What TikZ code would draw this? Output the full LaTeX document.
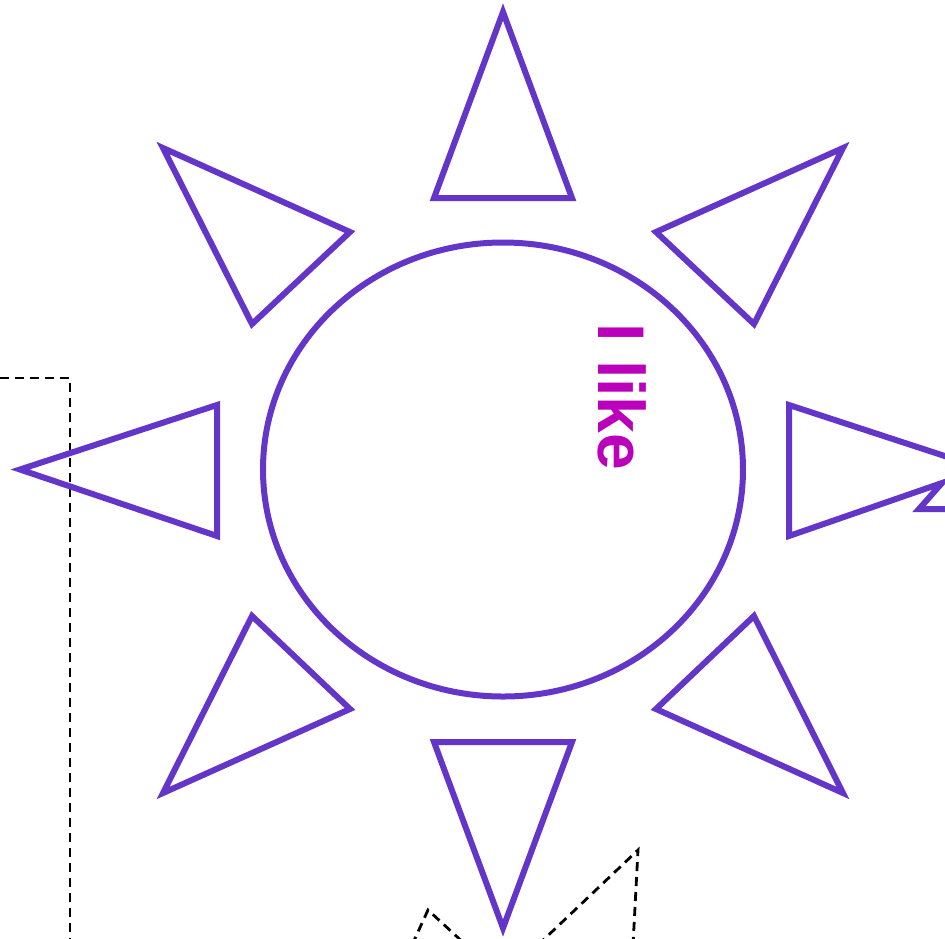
\documentclass[tikz,border=0pt]{standalone}
\usepackage{fontspec}
\usepackage{xcolor}
\usepackage{tikz}
\newfontfamily\labelfont{Liberation Sans}
\definecolor{sunPurple}{HTML}{6435C9}
\definecolor{textMagenta}{HTML}{BB00BB}
\tikzset{
  sunline/.style={draw=sunPurple, line width=6pt, line join=miter},
  guide/.style={draw=black, line width=2.8pt, dash pattern=on 9pt off 6pt},
  likelabel/.style={text=textMagenta, font=\labelfont\bfseries\fontsize{66}{66}\selectfont, inner sep=0pt, rotate=-90}
}

\begin{document}
\begin{tikzpicture}[x=1pt, y=-1pt]
  \useasboundingbox (0,0) rectangle (945,938);
  \begin{scope}
  \clip (0,0) rectangle (945,938);
  % dashed guides
  \draw[guide] (0,378) -- (70,378) -- (70,945);
  \draw[guide] (412,945) -- (428,910) -- (466,945);
  \draw[guide] (538,945) -- (638,850) -- (633,945);
  % the sun
  \draw[sunline] (503,469.5) ellipse [x radius=240, y radius=227];
  \draw[sunline] (503,12) -- (572,198) -- (434,198) -- cycle;
  \draw[sunline] (503,928) -- (572,742) -- (434,742) -- cycle;
  \draw[sunline] (20,469.5) -- (217,405) -- (217,536) -- cycle;
  \draw[sunline] (163,148) -- (350,232) -- (252,324) -- cycle;
  \draw[sunline] (843,148) -- (656,232) -- (754,324) -- cycle;
  \draw[sunline] (163,793) -- (252,616) -- (350,709) -- cycle;
  \draw[sunline] (843,793) -- (754,616) -- (656,709) -- cycle;
  \draw[sunline] (960,461) -- (789,405) -- (789,536) -- (942,483) -- (919,509) -- (960,509);
  \end{scope}
  \node[likelabel] (like) at (622,397) {I like};
\end{tikzpicture}
\end{document}
